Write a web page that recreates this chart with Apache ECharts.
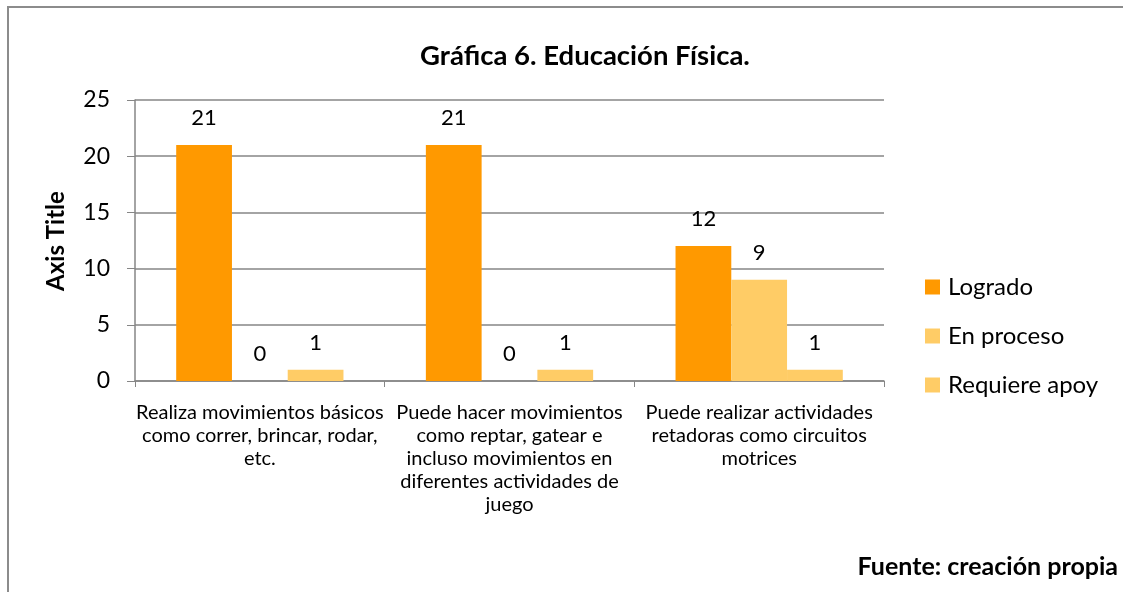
<!DOCTYPE html>
<html>
<head>
<meta charset="utf-8">
<script src="https://cdn.jsdelivr.net/npm/echarts@6/dist/echarts.min.js"></script>
<style>
  html, body { margin: 0; padding: 0; background: #fff; }
  #chart { width: 1123px; height: 592px; }
</style>
</head>
<body>
<div id="chart"></div>
<script>
// category labels, broken into lines as in the original
var categories = [
    'Realiza movimientos básicos\ncomo correr, brincar, rodar,\netc.',
    'Puede hacer movimientos\ncomo reptar, gatear e\nincluso movimientos en\ndiferentes actividades de\njuego',
    'Puede realizar actividades\nretadoras como circuitos\nmotrices'
];
var seriesNames = ['Logrado', 'En proceso', 'Requiere apoy'];
var logrado = [21, 21, 12];
var enProceso = [0, 0, 9];
var requiereApoyo = [1, 1, 1];
var yTicks = [0, 5, 10, 15, 20, 25];

var colors = ['#ff9900', '#ffcc66', '#ffcc66'];
var font = 'Lato, "Open Sans", sans-serif';

var myChart = echarts.init(document.getElementById('chart'));

function makeSeries(name, data, color) {
    return {
        name: name,
        type: 'bar',
        data: data,
        barGap: '0%',
        barCategoryGap: '33%',
        itemStyle: { color: color },
        label: {
            show: true,
            position: 'top',
            distance: 16,
            color: '#000',
            fontSize: 22,
            fontFamily: font
        }
    };
}

var option = {
    animation: false,
    title: {
        text: 'Gráfica 6. Educación Física.',
        left: 580,
        textAlign: 'center',
        top: 37,
        textStyle: { fontSize: 27.5, fontWeight: 'bold', color: '#000', fontFamily: font }
    },
    legend: {
        orient: 'vertical',
        left: 925,
        top: 275,
        padding: 0,
        itemWidth: 15,
        itemHeight: 15,
        itemGap: 25,
        icon: 'rect',
        data: seriesNames,
        textStyle: { fontSize: 24, color: '#000', fontFamily: font, padding: [0, 0, 0, 3] }
    },
    grid: { left: 135, right: 239, top: 100, bottom: 211 },
    xAxis: {
        type: 'category',
        data: categories,
        axisLine: { lineStyle: { color: '#868686', width: 1.5 } },
        axisTick: { show: true, alignWithLabel: false, length: 6, lineStyle: { color: '#868686' } },
        axisLabel: {
            interval: 0,
            margin: 20,
            lineHeight: 23,
            fontSize: 20,
            color: '#000',
            fontFamily: font
        }
    },
    yAxis: {
        type: 'value',
        min: yTicks[0],
        max: yTicks[yTicks.length - 1],
        interval: 5,
        axisLine: { show: true, lineStyle: { color: '#868686', width: 1.5 } },
        axisTick: { show: true, length: 8, lineStyle: { color: '#868686' } },
        axisLabel: { fontSize: 23, color: '#000', margin: 25, fontFamily: font },
        splitLine: { lineStyle: { color: '#868686', width: 1.5 } }
    },
    graphic: [
        {
            type: 'rect',
            shape: { x: 8, y: 7, width: 1300, height: 800 },
            style: { fill: 'none', stroke: '#8c8c8c', lineWidth: 2 },
            silent: true
        },
        {
            // y axis title
            type: 'text',
            x: 56,
            y: 241,
            rotation: Math.PI / 2,
            style: {
                text: 'Axis Title', fontSize: 24, fontWeight: 'bold', fill: '#000', fontFamily: font,
                align: 'center', verticalAlign: 'middle'
            }
        },
        {
            type: 'text',
            right: 5,
            top: 554,
            style: { text: 'Fuente: creación propia', fontSize: 25, fontWeight: 'bold', fill: '#000', fontFamily: font }
        }
    ],
    series: [
        makeSeries(seriesNames[0], logrado, colors[0]),
        makeSeries(seriesNames[1], enProceso, colors[1]),
        makeSeries(seriesNames[2], requiereApoyo, colors[2])
    ]
};

myChart.setOption(option);
</script>
</body>
</html>
